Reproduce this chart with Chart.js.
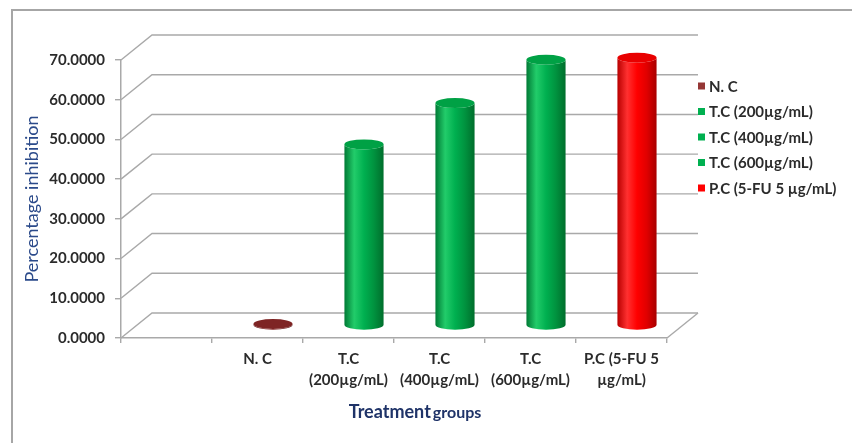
<!DOCTYPE html>
<html>
<head>
<meta charset="utf-8">
<script src="https://cdn.jsdelivr.net/npm/chart.js@4.4.0/dist/chart.umd.min.js"></script>
<style>
  html, body { margin: 0; padding: 0; background: #fff; }
  #wrap { position: relative; width: 852px; height: 443px; }
</style>
</head>
<body>
<div id="wrap"><canvas id="chart"></canvas></div>
<script>
// values
const categories = ['', 'N. C', ['T.C', '(200µg/mL)'], ['T.C', '(400µg/mL)'], ['T.C', '(600µg/mL)'], ['P.C (5-FU 5', 'µg/mL)']]
const inhibition = [null, 0.4, 45.6, 56.0, 66.9, 67.4]
const legendLabels = ['N. C', 'T.C (200µg/mL)', 'T.C (400µg/mL)', 'T.C (600µg/mL)', 'P.C (5-FU 5 µg/mL)']
const yTicks = [0, 10, 20, 30, 40, 50, 60, 70]

// styles
const maroon = {body: ['#5e1515', '#8a2a2a', '#7c2222', '#521010'], top: '#7e2424', key: '#953735'}
const green = {body: ['#007a35', '#22cc6a', '#00b050', '#00933f', '#006e2c'], top: '#00a145', key: '#00b050'}
const red = {body: ['#b80000', '#ff3030', '#ff0000', '#e00000', '#a80000'], top: '#e80000', key: '#ff0000'}
const barStyles = [null, maroon, green, green, green, red]
const gridColor = '#a9a9a9'
const depth = {x: 31, y: -25}
const font = 'Lato'

const walls = {
    id: 'walls',
    beforeDraw(chart){
        const ctx = chart.ctx
        ctx.save()
        ctx.fillStyle = '#fff'
        ctx.fillRect(0, 0, chart.width, chart.height)
        ctx.strokeStyle = '#a6a6a6'
        ctx.lineWidth = 2
        ctx.beginPath()
        ctx.moveTo(12, chart.height)
        ctx.lineTo(12, 10)
        ctx.lineTo(chart.width, 10)
        ctx.stroke()
        ctx.restore()
    },
    beforeDatasetsDraw(chart){
        const {ctx, chartArea: a, scales: {y}} = chart
        ctx.save()
        ctx.strokeStyle = gridColor
        ctx.lineWidth = 1.4
        y.ticks.forEach(t => {
            const py = y.getPixelForValue(t.value)
            ctx.beginPath()
            ctx.moveTo(a.left, py)
            ctx.lineTo(a.left + depth.x, py + depth.y)
            ctx.lineTo(a.right + depth.x, py + depth.y)
            ctx.stroke()
        })
        // right edge of the floor
        const p0 = y.getPixelForValue(0)
        ctx.beginPath()
        ctx.moveTo(a.right, p0)
        ctx.lineTo(a.right + depth.x, p0 + depth.y)
        ctx.stroke()
        ctx.restore()
    },
    afterDatasetsDraw(chart){
        const ctx = chart.ctx
        const meta = chart.getDatasetMeta(0)
        meta.data.forEach((bar, i) => {
            const st = barStyles[i]
            if(inhibition[i] == null || !st) return
            const {x, y, base, width} = bar.getProps(['x', 'y', 'base', 'width'], true)
            const cx = x + depth.x / 2
            const top = y + depth.y / 2
            const bottom = base + depth.y / 2
            const rx = width / 2
            const ry = 5
            const g = ctx.createLinearGradient(cx - rx, 0, cx + rx, 0)
            st.body.forEach((c, k) => g.addColorStop(k / (st.body.length - 1), c))
            ctx.save()
            ctx.fillStyle = g
            ctx.beginPath()
            ctx.moveTo(cx - rx, top)
            ctx.lineTo(cx - rx, bottom)
            ctx.ellipse(cx, bottom, rx, ry, 0, Math.PI, 0, true)
            ctx.lineTo(cx + rx, top)
            ctx.ellipse(cx, top, rx, ry, 0, 0, Math.PI, false)
            ctx.closePath()
            ctx.fill()
            ctx.fillStyle = st.top
            ctx.beginPath()
            ctx.ellipse(cx, top, rx, ry, 0, 0, Math.PI * 2)
            ctx.fill()
            ctx.restore()
        })
    },
    afterDraw(chart){
        const ctx = chart.ctx
        ctx.save()
        // legend
        ctx.textBaseline = 'middle'
        ctx.textAlign = 'left'
        ctx.font = 'bold 15px ' + font
        legendLabels.forEach((txt, i) => {
            const ly = 86 + 25.5 * i
            ctx.fillStyle = barStyles[i + 1].key
            ctx.fillRect(698, ly - 3.5, 7, 7)
            ctx.fillStyle = '#2b2b2b'
            ctx.fillText(txt, 709, ly + 1)
        })
        // x axis title, two sizes as in the original
        ctx.textBaseline = 'alphabetic'
        ctx.fillStyle = '#1f3368'
        ctx.font = 'bold 18px ' + font
        const w1 = ctx.measureText('Treatment').width
        ctx.font = 'bold 16px ' + font
        const w2 = ctx.measureText('groups').width
        const sx = 415 - (w1 + 2 + w2) / 2
        ctx.font = 'bold 18px ' + font
        ctx.fillText('Treatment', sx, 418)
        ctx.font = 'bold 16px ' + font
        ctx.fillText('groups', sx + w1 + 2, 418)
        ctx.restore()
    }
}

const ctx = document.getElementById('chart').getContext('2d')
new Chart(ctx, {
    type: 'bar',
    data: {
        labels: categories,
        datasets: [{
            label: 'Percentage inhibition',
            data: inhibition,
            backgroundColor: 'rgba(0,0,0,0)',
            borderWidth: 0,
            barPercentage: 0.43,
            categoryPercentage: 1
        }]
    },
    options: {
        responsive: true,
        maintainAspectRatio: false,
        animation: false,
        layout: { padding: { left: 0, top: 60, right: 185, bottom: 0 } },
        plugins: { legend: { display: false }, tooltip: { enabled: false } },
        scales: {
            x: {
                afterFit: s => { s.height = 105 },
                grid: { drawOnChartArea: false, tickLength: 5, color: gridColor, lineWidth: 1.4 },
                border: { display: true, color: gridColor, width: 1.5 },
                ticks: {
                    padding: 6, color: '#2b2b2b', maxRotation: 0, autoSkip: false,
                    font: { family: font, weight: 'bold', size: 15, lineHeight: 1.4 }
                }
            },
            y: {
                min: 0,
                max: 70,
                afterBuildTicks: s => { s.ticks = yTicks.map(v => ({ value: v })) },
                afterFit: s => { s.width = 121 },
                grid: { drawOnChartArea: false, tickLength: 6, color: gridColor, lineWidth: 1.4 },
                border: { display: true, color: gridColor, width: 1.5 },
                ticks: {
                    padding: 10, color: '#2b2b2b',
                    font: { family: font, weight: 'bold', size: 15 },
                    callback: v => Number(v).toFixed(4)
                },
                title: {
                    display: true, text: 'Percentage inhibition', color: '#2b4a8a',
                    font: { family: font, size: 18 }, padding: { top: 21 }
                }
            }
        }
    },
    plugins: [walls]
})
</script>
</body>
</html>
